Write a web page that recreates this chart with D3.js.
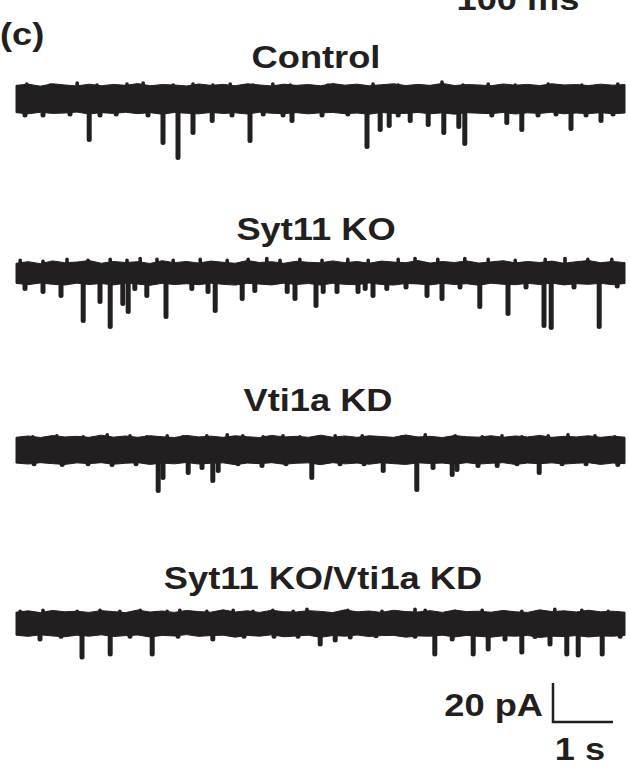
<!DOCTYPE html>
<html>
<head>
<meta charset="utf-8">
<script src="https://cdn.jsdelivr.net/npm/d3@7"></script>
<style>
  html, body { margin: 0; padding: 0; background: #fff; }
  svg { display: block; }
</style>
</head>
<body>
<script>
// ---------- DATA ----------
const traceNames = ["Control", "Syt11 KO", "Vti1a KD", "Syt11 KO/Vti1a KD"];
const traceDuration = 10.15; // s

// miniature events: [time (s), peak amplitude (pA)]
const controlEvents = [
  [0.15,-9.5],[0.45,-9.5],[0.9,-9],[1.22,-22],[1.4,-9.5],[1.67,-9],[2.2,-9.5],[2.45,-23.6],[2.70,-31.3],[2.95,-18.5],
  [3.27,-12.3],[3.6,-9.5],[3.90,-22.6],[4.12,-9],[4.45,-9.5],[4.60,-12.3],[5.1,-9.5],[5.53,-9],[5.85,-25.6],
  [6.07,-16.9],[6.22,-14.9],[6.37,-9.5],[6.57,-12.3],[6.87,-14.4],[7.13,-18.5],[7.38,-15.4],[7.48,-24.1],
  [7.93,-9.5],[8.18,-13.3],[8.43,-16.9],[8.7,-9.5],[9.0,-9],[9.25,-16.4],[9.5,-9.5],[9.75,-12.3],[9.95,-9]
];
const syt11Events = [
  [0.15,-9.2],[0.45,-10.8],[0.75,-12.8],[1.12,-25.6],[1.40,-15.9],[1.57,-28.7],[1.78,-16.9],[1.87,-21.0],
  [1.98,-9.2],[2.18,-12.8],[2.50,-23.6],[2.93,-9.2],[3.20,-10.8],[3.32,-20.5],[3.77,-14.4],[3.98,-10.3],
  [4.52,-10.8],[4.65,-14.4],[5.00,-17.9],[5.12,-10.8],[5.35,-10.8],[5.70,-10.8],[5.82,-9.2],[5.95,-12.8],
  [6.18,-9.2],[6.5,-8.5],[6.85,-12.8],[7.10,-14.4],[7.4,-8.5],[7.73,-18.5],[8.20,-22.1],[8.5,-8.5],
  [8.80,-28.2],[8.92,-29.2],[9.3,-8.5],[9.72,-28.7],[10.02,-8]
];
const vti1aEvents = [
  [0.3,-8.3],[0.77,-8.7],[1.2,-8.3],[1.60,-8.7],[2.0,-8.3],[2.37,-22.1],[2.45,-15.4],[2.87,-12.8],[3.10,-10.3],
  [3.28,-16.9],[3.37,-11.8],[3.7,-8.3],[4.10,-9.2],[4.5,-8.3],[4.93,-15.4],[5.4,-8.3],[5.8,-8.3],[6.12,-11.8],
  [6.68,-21.5],[6.95,-10.3],[7.27,-13.8],[7.35,-11.3],[7.70,-9.2],[8.02,-9.2],[8.35,-8.3],[8.72,-12.8],
  [9.1,-8.3],[9.5,-8.3],[10.03,-8.7]
];
const sytVtiEvents = [
  [0.40,-9.2],[0.75,-7.8],[1.10,-18.5],[1.57,-16.9],[1.9,-7.8],[2.27,-16.9],[2.7,-7.8],[3.28,-9.2],[3.8,-7.8],
  [4.3,-7.8],[4.7,-7.8],[5.07,-11.8],[5.32,-9.7],[5.57,-8.2],[6.0,-7.6],[6.65,-7.8],[6.98,-16.9],[7.27,-9.2],
  [7.62,-16.9],[7.87,-14.4],[8.15,-9.2],[8.43,-15.9],[8.65,-8],[8.90,-11.8],[9.18,-16.9],[9.37,-17.4],
  [9.77,-16.9],[10.07,-7.8]
];

// upward noise peaks on the baseline: [time (s), amplitude (pA)]
const controlUp = [
  [0.18,8.7],[0.57,8.2],[1.02,9.2],[1.35,8.2],[1.85,8.7],[2.12,9.2],[2.62,8.2],[2.95,8.7],[3.28,8.2],[3.57,8.7],
  [3.95,8.2],[4.28,8.7],[4.57,8.2],[5.2,8.2],[5.95,8.7],[6.37,8.2],[7.1,9.7],[7.45,8.2],[7.87,8.7],[8.32,8.2],
  [8.87,8.7],[9.43,8.2],[10.03,8.7]
];
const syt11Up = [
  [0.07,7.5],[0.45,7],[0.85,8],[1.2,7.5],[1.57,8],[1.85,7.5],[2.07,8.5],[2.35,8],[2.62,7.5],[3.07,8],[3.52,7.5],
  [3.87,8],[4.18,8.5],[4.4,7.5],[4.73,8],[5.1,7.5],[5.53,8],[5.87,7.5],[6.37,8],[6.65,8.5],[7.03,8],[7.48,8.5],
  [7.87,8],[8.32,7.5],[8.82,8],[9.15,8.5],[9.53,8],[9.93,8]
];
const vti1aUp = [
  [0.28,7.8],[0.68,8.3],[1.12,7.8],[1.52,8.8],[1.9,8.3],[2.18,7.8],[2.52,8.3],[2.78,7.8],[3.18,8.3],[3.52,8.8],
  [3.78,8.3],[4.12,7.8],[4.45,8.3],[4.73,7.8],[5.32,8.3],[5.77,8.3],[6.43,7.8],[6.82,8.8],[7.32,8.3],[7.77,7.8],
  [8.1,8.3],[8.43,7.8],[8.87,8.3],[9.2,8.8],[9.65,8.3],[9.98,7.8]
];
const sytVtiUp = [
  [0.07,7.3],[0.45,7.8],[1.02,7.3],[1.4,7.8],[1.73,7.3],[2.07,7.8],[2.52,7.3],[2.73,7.8],[3.18,7.3],[3.62,7.8],
  [3.95,7.3],[4.28,7.8],[4.62,7.3],[4.85,8.3],[5.53,7.8],[6.1,7.3],[6.65,8.3],[6.82,7.8],[7.32,7.3],[7.77,7.8],
  [8.43,7.3],[8.98,8.3],[9.43,7.8],[9.87,7.3]
];

// baseline noise envelope (pA), sampled evenly along the trace
const controlTop = [7,7.6,6.6,7.8,7.2,6.7,7.6,6.8,7.5,7,7.9,6.8,7.4,7.2,6.7,7.7,7,7.5,6.8,7.8,7.2,6.7,7.6,7,7.4,6.8,7.9,7.1,7.6,6.8,7.3,7.8,6.9,7.5,7,8,6.9,7.4,7.2,6.8,7.7,7.1,7.5,6.9,7.8,7.2,7.4,6.9,7.6,7.1,7.4];
const controlBottom = [-7,-7.6,-6.8,-7.4,-7.2,-6.7,-7.7,-7,-7.4,-6.8,-7.5,-7,-7.8,-6.9,-7.3,-7.6,-6.9,-7.4,-7.1,-7.7,-6.8,-7.3,-7.5,-7,-7.6,-7.1,-6.9,-7.5,-7.2,-7.8,-6.9,-7.4,-7.4,-6.9,-7.6,-7.1,-7.8,-7,-7.3,-7.5,-6.9,-7.7,-7.1,-7.4,-6.8,-7.6,-7.2,-7.5,-7,-7.6,-7.2];
const syt11Top = [5,5.8,4.8,6.2,5.3,5.6,6.4,5,5.9,5.4,5.8,4.9,6.3,5.3,5.9,5.1,6.1,5.5,5,6.4,5.4,5.8,5,6,5.5,5.2,6.2,5.3,5.9,5,6.1,5.6,5.3,6.4,5.1,5.9,5.4,6.2,5.1,5.7,6.3,5.2,5.9,5.4,6.1,5,5.8,6.4,5.3,5.9,5.3];
const syt11Bottom = [-5.3,-6,-5.1,-5.8,-6.2,-5.2,-5.9,-5.4,-6.1,-5.2,-5.7,-6.3,-5.3,-5.9,-5.5,-6,-5.2,-5.8,-6.2,-5.3,-5.7,-6.1,-5.2,-5.9,-5.4,-6.2,-5.3,-5.8,-6,-5.1,-5.9,-6.2,-5.4,-5.6,-6.1,-5.3,-5.9,-5.5,-6.3,-5.2,-5.8,-6,-5.3,-5.9,-5.2,-6.1,-5.5,-5.8,-5.3,-6,-5.4];
const vti1aTop = [6.5,7.2,6.4,7.4,6.7,7,6.5,7.6,6.6,7.2,6.5,7.3,6.8,6.4,7.5,6.7,7.1,6.5,7.3,6.8,6.4,7.5,6.7,7,6.5,7.6,6.6,7.2,6.5,7.3,6.9,6.5,7.7,6.7,7,6.4,7.4,6.8,6.6,7.3,6.5,7.2,6.7,7.5,6.5,7,6.7,7.3,6.5,7.1,6.6];
const vti1aBottom = [-6.7,-7.2,-6.5,-7,-7.4,-6.6,-7,-6.5,-7.3,-6.8,-6.5,-7.4,-6.7,-7.1,-6.4,-7.2,-6.8,-6.6,-7.5,-6.7,-7,-6.5,-7.3,-6.8,-6.6,-7.5,-6.5,-7.1,-6.7,-7.3,-6.5,-7,-7.4,-6.6,-6.9,-6.7,-7.3,-6.5,-7.2,-6.8,-6.5,-7.4,-6.7,-7,-6.6,-7.2,-6.8,-6.5,-7.4,-6.7,-7];
const sytVtiTop = [5.8,6.5,5.6,6.7,6,6.3,5.7,6.6,6.1,5.6,6.9,5.9,6.4,5.7,6.7,6.1,5.8,7,5.9,6.5,5.7,6.8,6,5.9,6.6,6.2,5.6,7,6,6.4,5.7,6.8,6.1,5.9,6.6,5.7,6.9,6.1,6.3,5.8,6.7,6,5.7,7,6.1,6.5,5.9,6.8,6,6.3,5.8];
const sytVtiBottom = [-6,-6.6,-5.8,-6.4,-6.8,-6,-6.5,-5.8,-6.7,-6.2,-5.9,-6.9,-6.1,-6.4,-5.7,-6.6,-6.2,-6,-7,-6.1,-6.5,-5.8,-6.8,-6.4,-6,-7.1,-6.2,-6.5,-5.9,-6.7,-6.2,-6.1,-7,-6.4,-6.5,-6,-6.9,-6.1,-6.6,-7,-6.3,-6.5,-6.1,-7.2,-6.5,-6.7,-6.2,-6.9,-6.4,-6.5,-6.1];

const traceEvents = [controlEvents, syt11Events, vti1aEvents, sytVtiEvents];
const traceUp = [controlUp, syt11Up, vti1aUp, sytVtiUp];
const traceTop = [controlTop, syt11Top, vti1aTop, sytVtiTop];
const traceBottom = [controlBottom, syt11Bottom, vti1aBottom, sytVtiBottom];

const scaleBarPA = 20;   // pA
const scaleBarS = 1;     // s
const scaleBarLabels = ["20 pA", "1 s"];
const panelLabel = "(c)";
const topLabel = "100 ms";

// ---------- LAYOUT ----------
const W = 630, H = 766;
const ink = "#231f20";
const pxPerPA = 1.95;
const traceCenters = [99, 273, 450, 623.5];
const titleBaselines = [68, 240, 411, 589];
const titleCenters = [316, 316, 318, 323];
const fontSize = 31, stretch = 1.17;

const svg = d3.select("body").append("svg").attr("width", W).attr("height", H);
const x = d3.scaleLinear().domain([0, traceDuration]).range([16, 625]);

function stretchedText(txt, cx, base, anchor) {
  const g = svg.append("g").attr("transform", `translate(${cx},${base}) scale(${stretch},1)`);
  g.append("text").text(txt)
    .attr("text-anchor", anchor || "middle")
    .attr("font-family", "Liberation Sans, Arial, Helvetica, sans-serif")
    .attr("font-weight", "bold").attr("font-size", fontSize).attr("fill", ink);
}

stretchedText(topLabel, 518, 10);
stretchedText(panelLabel, 0, 45, "start");

traceNames.forEach((name, i) => {
  const c = traceCenters[i];
  const y = d3.scaleLinear().domain([0, 1]).range([c, c - pxPerPA]);
  stretchedText(name, titleCenters[i], titleBaselines[i]);

  const g = svg.append("g");
  const top = traceTop[i], bot = traceBottom[i];
  const n = top.length;
  const env = d3.range(n).map(k => ({ t: k * traceDuration / (n - 1), hi: top[k], lo: bot[k] }));
  // baseline noise band
  g.append("path")
    .attr("d", d3.area().x(d => x(d.t)).y0(d => y(d.lo)).y1(d => y(d.hi)).curve(d3.curveLinear)(env))
    .attr("fill", ink).attr("stroke", ink).attr("stroke-width", 1).attr("stroke-linejoin", "round");
  // upward noise peaks
  g.selectAll("line.up").data(traceUp[i]).join("line").attr("class", "up")
    .attr("x1", d => x(d[0])).attr("x2", d => x(d[0]))
    .attr("y1", y(0)).attr("y2", d => y(d[1]) + 2)
    .attr("stroke", ink).attr("stroke-width", 3.6).attr("stroke-linecap", "round");
  // downward events
  g.selectAll("line.ev").data(traceEvents[i]).join("line").attr("class", "ev")
    .attr("x1", d => x(d[0])).attr("x2", d => x(d[0]))
    .attr("y1", y(0)).attr("y2", d => y(d[1]) - 2.5)
    .attr("stroke", ink).attr("stroke-width", 5).attr("stroke-linecap", "round");
});

// scale bar
const sbX = 553, sbY = 722;
const sbx = d3.scaleLinear().domain([0, traceDuration]).range([0, x(traceDuration) - x(0)]);
svg.append("path")
  .attr("d", `M${sbX},${sbY - scaleBarPA * pxPerPA}V${sbY}H${sbX + sbx(scaleBarS)}`)
  .attr("fill", "none").attr("stroke", ink).attr("stroke-width", 2.5);
stretchedText(scaleBarLabels[0], 543, 716, "end");
stretchedText(scaleBarLabels[1], 580, 760);
</script>
</body>
</html>
